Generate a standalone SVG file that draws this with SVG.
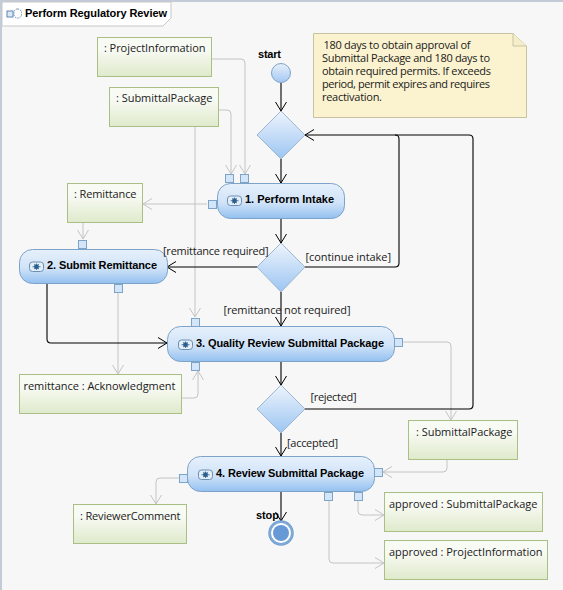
<svg xmlns="http://www.w3.org/2000/svg" width="563" height="590" viewBox="0 0 563 590">
<defs>
<linearGradient id="gObj" x1="0" y1="0" x2="0" y2="1"><stop offset="0.3" stop-color="#f8faf4"/><stop offset="1" stop-color="#dfeacb"/></linearGradient>
<linearGradient id="gAct" x1="0" y1="0" x2="0" y2="1"><stop offset="0" stop-color="#e6f0fb"/><stop offset="0.55" stop-color="#d0e3f8"/><stop offset="1" stop-color="#93c0f0"/></linearGradient>
<linearGradient id="gDia" x1="0" y1="0" x2="0" y2="1"><stop offset="0" stop-color="#eef4fc"/><stop offset="1" stop-color="#9cc5f2"/></linearGradient>
<linearGradient id="gStart" x1="0" y1="0" x2="0" y2="1"><stop offset="0" stop-color="#e6f0fb"/><stop offset="1" stop-color="#a3c8f1"/></linearGradient>
<marker id="aB" markerUnits="userSpaceOnUse" markerWidth="12" markerHeight="14" refX="10" refY="6" orient="auto"><path d="M1 0.500L10 6L1 11.500" fill="none" stroke="#000" stroke-width="1"/></marker>
<marker id="aG" markerUnits="userSpaceOnUse" markerWidth="12" markerHeight="14" refX="10" refY="6" orient="auto"><path d="M1 0.500L10 6L1 11.500" fill="none" stroke="#c4c4c4" stroke-width="1"/></marker>
<g id="ico"><rect x="0" y="0" width="14" height="9.500" rx="3" fill="#e4eef9" stroke="#6b8fb3"/><circle cx="7" cy="4.750" r="2.400" fill="#2d5f8e"/><path d="M3 4.750H11M7 1.500V8M4.500 2.300L9.500 7.200M9.500 2.300L4.500 7.200" stroke="#2d5f8e" stroke-width="0.800"/></g>
</defs>
<style>
text{font-family:"Open Sans","DejaVu Sans","Liberation Sans",sans-serif;font-size:11px;fill:#1a1a1a}
.b{font-weight:bold;fill:#000;font-family:"Liberation Sans",Arial,sans-serif;font-size:11px}
.obj{fill:url(#gObj);stroke:#a9bf85;stroke-width:1}
.act{fill:url(#gAct);stroke:#7ea3c9;stroke-width:1}
.dia{fill:url(#gDia);stroke:#9db6d2;stroke-width:1}
.pin{fill:#d3e5f8;stroke:#7ea3c9;stroke-width:1}
.f{fill:none;stroke:#000;stroke-width:1.100}
.o{fill:none;stroke:#c4c4c4;stroke-width:1}
.fa{marker-end:url(#aB)}
.oa{marker-end:url(#aG)}
</style>
<rect width="563" height="590" fill="#f7f7f7"/>
<rect width="563" height="2" fill="#c4cbd8"/>
<rect width="2" height="590" fill="#c4cbd8"/>
<g id="title">
<path d="M2 2H171V18L163 26H2Z" fill="#fff" stroke="#c8c8c8"/>
<rect x="7" y="11" width="6" height="6" fill="#dbe8f6" stroke="#5f88b0"/>
<rect x="14" y="9" width="7.500" height="9" rx="3.500" fill="#fff" stroke="#5f88b0" stroke-dasharray="1.500 1"/>
<text class="b" x="25" y="17" textLength="142">Perform Regulatory Review</text>
</g>
<g id="connectors">
<path class="o oa" d="M211 59H241Q245 59 245 63V174"/>
<path class="o oa" d="M218 110H227Q231 110 231 114V174"/>
<path class="o oa" d="M195 126V317"/>
<path class="o oa" d="M207 204H143"/>
<path class="o oa" d="M83 222V239"/>
<path class="o oa" d="M118 293V374"/>
<path class="o oa" d="M181 398H194Q198 398 198 394V371"/>
<path class="o" d="M403 342H447Q451 342 451 346"/>
<path class="o oa" d="M451 346V420"/>
<path class="o oa" d="M447 459V468Q447 472 443 472H383"/>
<path class="o oa" d="M182 478H160Q156 478 156 482V504"/>
<path class="o oa" d="M358 501V511Q358 515 362 515H384"/>
<path class="o oa" d="M329 501V559Q329 563 333 563H384"/>
<path class="f fa" d="M281 83V111"/>
<path class="f fa" d="M281 159V183"/>
<path class="f fa" d="M281 218V243"/>
<path class="f fa" d="M257 267H167"/>
<path class="f fa" d="M281 292V326"/>
<path class="f" d="M305 267H395Q399 267 399 263V139Q399 135 395 135"/>
<path class="f fa" d="M395 135H305"/>
<path class="f" d="M305 409H469Q473 409 473 405V139Q473 135 469 135H395"/>
<path class="f fa" d="M47 284V339Q47 343 51 343H167"/>
<path class="f fa" d="M281 362V385"/>
<path class="f fa" d="M281 433V456"/>
<path class="f fa" d="M281 492V521"/>
</g>
<g id="note"><path d="M313.500 33.500H513L526.500 46V117.500H313.500Z" fill="#fbf3d0" stroke="#c9c2a0"/><path d="M513 33.500V46H526.500" fill="#f5eecb" stroke="#c9c2a0"/>
<text x="323.500" y="49" textLength="147">180 days to obtain approval of</text><text x="322" y="62" textLength="168">Submittal Package and 180 days to</text><text x="322" y="75" textLength="169">obtain required permits. If exceeds</text><text x="322" y="88" textLength="168">period, permit expires and requires</text><text x="322" y="101" textLength="60">reactivation.</text></g>
<g id="start"><circle cx="281" cy="73" r="9.500" fill="url(#gStart)" stroke="#7ea3c9"/><text class="b" x="258" y="58" textLength="23">start</text></g>
<g id="stop"><circle cx="281" cy="533" r="12" fill="#fff" stroke="#6f9fd0" stroke-width="1.500"/><circle cx="281" cy="533" r="11" fill="none" stroke="#7ea9d6" stroke-width="2"/><circle cx="281" cy="533" r="8" fill="#6699d6"/><text class="b" x="256" y="519" textLength="23">stop</text></g>
<g id="d1"><path class="dia" d="M281 111L305 135L281 159L257 135Z"/></g>
<g id="d2"><path class="dia" d="M281 243L305 267L281 292L257 267Z"/></g>
<g id="d3"><path class="dia" d="M281 385L305 409L281 433L257 409Z"/></g>
<g id="obj-pi"><rect class="obj" x="97.500" y="37.500" width="114" height="39"/><text x="104" y="52" textLength="101.500">: ProjectInformation</text></g>
<g id="obj-sp"><rect class="obj" x="109.500" y="87.500" width="109" height="39"/><text x="116" y="102" textLength="96.500">: SubmittalPackage</text></g>
<g id="obj-rem"><rect class="obj" x="67.500" y="183.500" width="75" height="39"/><text x="74" y="198" textLength="62.500">: Remittance</text></g>
<g id="obj-ack"><rect class="obj" x="19.500" y="374.500" width="162" height="39"/><text x="23.500" y="390" textLength="152">remittance : Acknowledgment</text></g>
<g id="obj-sp2"><rect class="obj" x="408.500" y="420.500" width="109" height="39"/><text x="416" y="436" textLength="96.500">: SubmittalPackage</text></g>
<g id="obj-asp"><rect class="obj" x="384.500" y="492.500" width="158" height="39"/><text x="389" y="508" textLength="148.500">approved : SubmittalPackage</text></g>
<g id="obj-api"><rect class="obj" x="384.500" y="540.500" width="163" height="39"/><text x="389" y="556" textLength="153.500">approved : ProjectInformation</text></g>
<g id="obj-rc"><rect class="obj" x="73.500" y="504.500" width="113" height="39"/><text x="80" y="520" textLength="100.500">: ReviewerComment</text></g>
<g id="a1"><rect class="pin" x="225.500" y="174.500" width="8" height="8"/><rect class="pin" x="240.500" y="174.500" width="8" height="8"/><rect class="pin" x="208.500" y="200.500" width="8" height="8"/><rect class="act" x="217.500" y="183.500" width="127" height="35" rx="13"/><use href="#ico" x="227.500" y="196"/><text class="b" x="245" y="203" textLength="89">1. Perform Intake</text></g>
<g id="a2"><rect class="pin" x="78.500" y="240.500" width="8" height="8"/><rect class="pin" x="114.500" y="284.500" width="8" height="8"/><rect class="act" x="19.500" y="249.500" width="148" height="34" rx="13"/><use href="#ico" x="29.500" y="262"/><text class="b" x="47" y="269" textLength="110">2. Submit Remittance</text></g>
<g id="a3"><rect class="pin" x="191.500" y="318.500" width="8" height="8"/><rect class="pin" x="191.500" y="362.500" width="8" height="8"/><rect class="pin" x="394.500" y="338.500" width="8" height="8"/><rect class="act" x="167.500" y="326.500" width="227" height="35" rx="13"/><use href="#ico" x="178.500" y="340"/><text class="b" x="196" y="347" textLength="188">3. Quality Review Submittal Package</text></g>
<g id="a4"><rect class="pin" x="179.500" y="474.500" width="8" height="8"/><rect class="pin" x="374.500" y="468.500" width="8" height="8"/><rect class="pin" x="324.500" y="492.500" width="8" height="8"/><rect class="pin" x="354.500" y="492.500" width="8" height="8"/><rect class="act" x="187.500" y="456.500" width="187" height="35" rx="13"/><use href="#ico" x="198.500" y="470"/><text class="b" x="216" y="477" textLength="148">4. Review Submittal Package</text></g>
<g id="guards">
<text x="163" y="255" textLength="105.500">[remittance required]</text>
<text x="305.500" y="261" textLength="85.500">[continue intake]</text>
<text x="223.500" y="314" textLength="127">[remittance not required]</text>
<text x="310.500" y="401" textLength="46">[rejected]</text>
<text x="287" y="447" textLength="51">[accepted]</text>
</g>
</svg>
